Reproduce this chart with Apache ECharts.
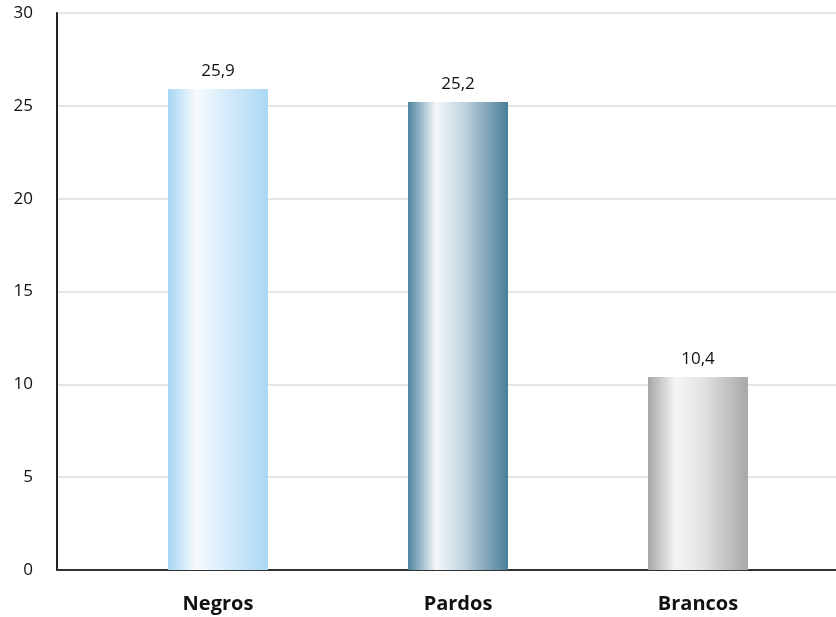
<!DOCTYPE html>
<html>
<head>
<meta charset="utf-8">
<script src="https://cdn.jsdelivr.net/npm/echarts@6/dist/echarts.min.js"></script>
<style>
  html, body { margin: 0; padding: 0; background: #fff; }
  #chart { width: 836px; height: 617px; }
</style>
</head>
<body>
<div id="chart"></div>
<script>
var categories = ['Negros', 'Pardos', 'Brancos'];
var values = [25.9, 25.2, 10.4];
var yMin = 0, yMax = 30, yStep = 5;

// cylinder-like colours: [edge left, highlight, middle, edge right]
var barColors = [
  ['#a6d6f3', '#f6fafe', '#d9edfa', '#a9d8f4'],
  ['#4e85a0', '#f4f8fb', '#c3d5e0', '#4a7e98'],
  ['#a6a6a6', '#f6f6f6', '#e2e2e2', '#a8a8a8']
];

function cyl(c) {
  return new echarts.graphic.LinearGradient(0, 0, 1, 0, [
    { offset: 0, color: c[0] },
    { offset: 0.28, color: c[1] },
    { offset: 0.55, color: c[2] },
    { offset: 1, color: c[3] }
  ]);
}

var fontFam = '"Open Sans", "Noto Sans", sans-serif';

var myChart = echarts.init(document.getElementById('chart'));
var option = {
  animation: false,
  grid: [
    { left: 57, right: 0, top: 13, bottom: 47 },
    { left: 98, right: 18, top: 13, bottom: 47 }
  ],
  xAxis: [
    {
      gridIndex: 0, type: 'category', data: categories,
      axisLine: { lineStyle: { color: '#333', width: 2 } },
      axisTick: { show: false }, axisLabel: { show: false }
    },
    {
      gridIndex: 1, type: 'category', data: categories,
      axisLine: { show: false }, axisTick: { show: false },
      axisLabel: { margin: 24, fontSize: 20, fontWeight: 'bold', color: '#111', fontFamily: fontFam }
    }
  ],
  yAxis: [
    {
      gridIndex: 0, type: 'value', min: yMin, max: yMax, interval: yStep,
      axisLine: { show: true, lineStyle: { color: '#222', width: 2 } },
      axisTick: { show: false },
      splitLine: { lineStyle: { color: '#dcdcdc', width: 1.5 } },
      axisLabel: { margin: 24, fontSize: 17, color: '#111', fontFamily: fontFam }
    },
    {
      gridIndex: 1, type: 'value', min: yMin, max: yMax, interval: yStep,
      show: false
    }
  ],
  series: [{
    type: 'bar',
    xAxisIndex: 1, yAxisIndex: 1,
    barWidth: 100,
    data: values.map(function (v, i) {
      return { value: v, itemStyle: { color: cyl(barColors[i]) } };
    }),
    label: {
      show: true, position: 'top', distance: 9,
      fontSize: 17, color: '#111', fontFamily: fontFam,
      formatter: function (p) { return String(p.value).replace('.', ','); }
    }
  }]
};
myChart.setOption(option, true);
</script>
</body>
</html>
